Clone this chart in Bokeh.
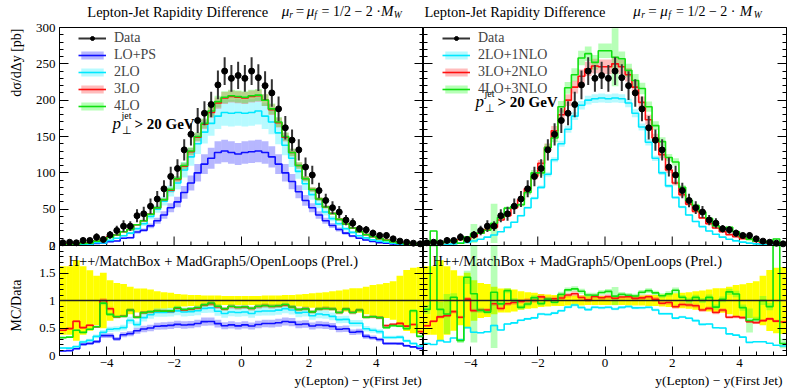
import math
from bokeh.plotting import figure
from bokeh.models import (Range1d, LinearAxis, Label, Legend, LegendItem,
                          SingleIntervalTicker, FixedTicker, Span)
from bokeh.layouts import row, column
from bokeh.embed import file_html
from bokeh.resources import INLINE

# ---------------- data ----------------
bin_edges = [-5.4, -5.2, -5.0, -4.8, -4.6, -4.4, -4.2, -4.0, -3.8, -3.6, -3.4, -3.2, -3.0,
             -2.8, -2.6, -2.4, -2.2, -2.0, -1.8, -1.6, -1.4, -1.2, -1.0, -0.8, -0.6, -0.4,
             -0.2, 0.0, 0.2, 0.4, 0.6, 0.8, 1.0, 1.2, 1.4, 1.6, 1.8, 2.0, 2.2, 2.4, 2.6,
             2.8, 3.0, 3.2, 3.4, 3.6, 3.8, 4.0, 4.2, 4.4, 4.6, 4.8, 5.0, 5.2, 5.4]

data_vals = [3.7, 4.5, 3.7, 6.9, 6.9, 11.5, 8.3, 14.7, 20.6, 26.6,
             26.6, 41, 43.6, 54, 64, 78, 95, 106, 131.6, 153,
             172, 182, 194, 221, 240, 230, 234, 230, 240, 231,
             220, 210, 188, 162, 145, 131.6, 108, 97, 75.6, 62,
             52, 46, 35, 30.7, 23, 21.6, 17, 13.8, 13.8, 9.2,
             6, 4.5, 3.2, 2.3]
data_errs = [2.3, 2.8, 2.7, 4.3, 3.8, 5.2, 4.2, 5.4, 6.6, 8.0,
             6.7, 9.0, 9.6, 10.8, 10.9, 11.7, 13.3, 12.7, 14.5, 15.3,
             17.2, 16.4, 17.5, 19.9, 19.2, 18.4, 18.7, 18.4, 19.2, 18.5,
             19.8, 18.9, 16.9, 16.2, 14.5, 14.5, 13.0, 12.6, 10.6, 9.3,
             8.8, 8.3, 7.0, 6.8, 5.1, 5.4, 4.8, 4.1, 4.4, 3.2,
             2.7, 2.5, 1.9, 1.4]

# left panel predictions
lo_ps = [0.3, 0.4, 0.45, 1.4, 1.5, 2.9, 3.0, 5.3, 6.2, 10,
         10.6, 18.5, 21, 27, 34, 42, 52, 60, 73, 86,
         100, 112, 120, 128, 130, 128, 126, 128, 129, 130,
         128, 122, 112, 100, 88, 74, 62, 52, 42, 34,
         27.5, 22, 17, 13, 10, 7.5, 5.5, 4, 3, 2,
         1.3, 0.8, 0.5, 0.3]
lo_2 = [0.5, 0.6, 0.6, 1.7, 1.9, 4.0, 3.5, 7, 10, 13.5,
        17, 23, 30, 40, 50, 61, 75, 86, 104, 122,
        140, 156, 168, 178, 183, 182, 183, 182, 183, 185,
        178, 170, 155, 138, 120, 102, 85, 70, 57, 46,
        37, 30, 23, 18, 13.5, 10.5, 7.8, 6, 4.5, 3,
        2, 1.2, 0.7, 0.4]
lo_3 = [1.7, 2.2, 2.3, 3.5, 3.8, 6.0, 8.3, 12.5, 14.5, 19,
        22, 28.5, 34, 43, 52, 63, 76, 91, 109, 129,
        149, 167, 183, 196, 203, 205, 204, 203, 205, 206,
        200, 187, 169, 149, 128, 110, 92, 77, 64, 53,
        44, 36, 29.5, 24, 19, 15, 12, 9.5, 7.5, 5.2,
        3.5, 2.4, 1.8, 1.0]
lo_4 = [1.2, 1.5, 1.7, 2.9, 3.3, 6.0, 7.9, 11, 14.5, 19,
        22, 28.5, 34, 43, 52, 63, 77, 92, 110, 130,
        150, 168, 185, 198, 204, 206, 205, 204, 206, 207,
        200, 188, 170, 150, 128, 110, 92, 77, 64, 53,
        44, 36, 29.5, 24, 19, 15, 12, 9.5, 7, 5,
        3.2, 2.2, 2.6, 0.8]

# right panel predictions
nlo_1 = [0.8, 0.9, 1.0, 1.7, 2.2, 3.3, 4.2, 6.2, 8.5, 11.5,
         14.5, 19, 25, 32, 41, 52, 65, 80, 98, 118,
         140, 160, 178, 193, 200, 202, 203, 202, 203, 202,
         196, 182, 163, 142, 120, 100, 82, 66, 53, 42,
         33, 26, 20, 15.5, 11.5, 8.5, 6.3, 4.6, 3.3, 2.3,
         1.5, 1.0, 0.6, 0.4]
nlo_2 = [2.0, 2.8, 2.6, 5.0, 5.5, 8.0, 8.5, 12, 17, 22,
         25, 35, 41, 52, 63, 78, 95, 113, 135, 158,
         180, 200, 218, 233, 243, 247, 246, 246, 250, 246,
         235, 218, 197, 173, 148, 125, 104, 86, 70, 57,
         47, 38, 30, 24, 19, 15, 12, 9.5, 8.5, 5.5,
         3.8, 3.0, 2.0, 1.4]
nlo_3 = [3.1, 20, 3.1, 5.2, 7.3, 3.1, 11.8, 16.5, 16.9, 21,
         30.6, 38.5, 51.4, 54, 56, 73, 100, 100, 135, 148,
         191, 217, 235, 258, 264, 252, 268, 268, 259, 257,
         241, 227, 216, 191, 165, 143, 121, 115, 80, 62,
         55, 46, 37, 27, 23.5, 25, 19, 12, 8.8, 6,
         6, 4, 9, 0.5]
nlo_3_band = [0.3, 0, 0.5, 2.5, 0.5, 0.5, 1, 13, 1, 1,
              27, 2, 2, 2.5, 2.5, 3, 4, 4, 5, 6,
              8, 8, 9, 10, 10, 10, 10, 10, 40, 10,
              9, 9, 8, 7, 6, 6, 5, 5, 3, 3,
              2.5, 2, 1.8, 1.5, 1.2, 1.2, 1, 0.8, 3, 0.5,
              0.5, 0.3, 0.5, 0.2]

# relative scale-variation band half widths
band_rel = {"LO+PS": 0.12, "2LO": 0.10, "3LO": 0.04, "4LO": 0.04,
            "2LO+1NLO": 0.03, "3LO+2NLO": 0.04}

main_ticks = [0, 50, 100, 150, 200, 250, 300]
ratio_ticks = [0, 0.5, 1, 1.5, 2]

FONT = "Liberation Serif"
XMIN, XMAX = -5.4, 5.4
N = len(data_vals)
lefts = bin_edges[:-1]
rights = bin_edges[1:]
centers = [(bin_edges[i] + bin_edges[i + 1]) / 2 for i in range(N)]

# geometry: main and ratio share one frame (main 218 px over ratio 110 px)
MAIN_PX, RATIO_PX = 218, 110
K = 300 / MAIN_PX                      # main units per pixel
Y_START = -RATIO_PX * K                # bottom of frame in main units
R_TOP = 2 * (MAIN_PX + RATIO_PX) / RATIO_PX
R_MAX = 2.0
MID = 0.3375                           # baseline -> middle offset, in em


def r2m(r):
    return Y_START + r * (RATIO_PX * K) / 2


def step_xy(vals):
    xs, ys = [], []
    for i, v in enumerate(vals):
        xs += [bin_edges[i], bin_edges[i + 1]]
        ys += [v, v]
    return xs, ys


def y_ticker():
    majors, overrides = [], {}
    for t in main_ticks:
        majors.append(float(t))
        overrides[float(t)] = str(t)
    for r in ratio_ticks:
        m = r2m(r)
        if r == 2:
            m = m - 1e-6
        majors.append(m)
        overrides[m] = ("%g" % r)
    minors = [float(v) for v in range(10, 300, 10) if v % 50]
    minors += [r2m(k / 10) for k in range(1, 20) if k % 5]
    return FixedTicker(ticks=majors, minor_ticks=minors), overrides


def style_axis(ax, labels):
    ax.major_tick_in = 9
    ax.major_tick_out = 0
    ax.minor_tick_in = 4
    ax.minor_tick_out = 0
    ax.axis_line_color = "black"
    ax.major_tick_line_color = "black"
    ax.minor_tick_line_color = "black"
    if labels:
        ax.major_label_text_font = FONT
        ax.major_label_text_font_size = "13px"
        ax.major_label_standoff = 4
        ax.major_label_text_color = "black"
    else:
        ax.major_label_text_font_size = "1px"
        ax.major_label_text_alpha = 0
        ax.major_label_standoff = 0


def lab(p, text, x, y, size, style="normal", align="left", angle=0.0):
    p.add_layout(Label(x=x, y=y, text=text, text_font=FONT, text_font_size=f"{size}px",
                       text_font_style=style, text_align=align, text_baseline="middle",
                       angle=angle, text_color="black"))


def strip(w, h):
    s = figure(width=w, height=h, x_range=Range1d(0, w), y_range=Range1d(h, 0),
               title=None,
               min_border_left=0, min_border_right=0, min_border_top=0, min_border_bottom=0,
               x_axis_location=None, y_axis_location=None,
               output_backend="svg", toolbar_location=None)
    s.grid.visible = False
    s.outline_line_color = None
    s.background_fill_color = "white"
    s.border_fill_color = "white"
    return s


def strip_text(s, text, x, base, size, style="normal", align="left"):
    # base: baseline position in strip pixels (y downwards)
    lab(s, text, x, base - MID * size, size, style, align)


def build_panel(is_left, mcs):
    fig_w = 393 if is_left else 365
    origin = 30 if is_left else 423         # page x of this column
    frame_left = 59 if is_left else 423
    frame_w = 364 if is_left else 363
    bl = frame_left - origin
    br = fig_w - bl - frame_w

    def xd(px):
        return XMIN + (px - frame_left) * (XMAX - XMIN) / frame_w

    def yd(py):
        return (245 - py) * K

    def ptext(text, px, base, size, style="normal"):
        lab(p, text, xd(px), yd(base - MID * size), size, style)

    p = figure(width=fig_w, height=353, x_range=Range1d(XMIN, XMAX),
               y_range=Range1d(Y_START, 300), title=None,
               min_border_left=bl, min_border_right=br, min_border_top=7, min_border_bottom=18,
               x_axis_location=None, y_axis_location=None,
               output_backend="svg", toolbar_location=None)
    p.extra_y_ranges = {"ratio": Range1d(0, R_TOP)}
    p.grid.visible = False
    p.outline_line_color = "black"
    p.background_fill_color = "white"
    p.border_fill_color = "white"

    tk, ov = y_ticker()
    ax = LinearAxis(ticker=tk, major_label_overrides=ov)
    style_axis(ax, is_left)
    p.add_layout(ax, "left")
    tk2, _ = y_ticker()
    ax = LinearAxis(ticker=tk2)
    style_axis(ax, False)
    p.add_layout(ax, "right")
    ax = LinearAxis(ticker=SingleIntervalTicker(interval=2, num_minor_ticks=4))
    style_axis(ax, True)
    ax.major_label_standoff = 3
    p.add_layout(ax, "below")

    # tick marks along the bottom of the upper (cross-section) panel
    xmaj = [-4, -2, 0, 2, 4]
    xmin_ = [k / 2 for k in range(-10, 11) if k % 4]
    p.segment(x0=xmaj, y0=[0] * len(xmaj), x1=xmaj, y1=[9 * K] * len(xmaj),
              line_color="black", line_width=1)
    p.segment(x0=xmin_, y0=[0] * len(xmin_), x1=xmin_, y1=[4 * K] * len(xmin_),
              line_color="black", line_width=1)

    # ---- ratio panel ----
    rel = [e / v for e, v in zip(data_errs, data_vals)]
    p.quad(left=lefts, right=rights, bottom=[1 - r for r in rel],
           top=[min(1 + r, R_MAX) for r in rel],
           fill_color="#ffff00", line_alpha=0, y_range_name="ratio")

    band_rs, line_rs = [], []
    for name, vals, line_col, band_col, band in mcs:
        lo = [v - b for v, b in zip(vals, band)]
        hi = [v + b for v, b in zip(vals, band)]
        band_rs.append(p.quad(left=lefts, right=rights, bottom=lo, top=hi,
                              fill_color=band_col, fill_alpha=0.35, line_alpha=0))
        p.quad(left=lefts, right=rights,
               bottom=[min(a / d, R_MAX) for a, d in zip(lo, data_vals)],
               top=[min(a / d, R_MAX) for a, d in zip(hi, data_vals)],
               fill_color=band_col, fill_alpha=0.35, line_alpha=0, y_range_name="ratio")
    for name, vals, line_col, band_col, band in mcs:
        xs, ys = step_xy(vals)
        line_rs.append(p.line(xs, ys, line_color=line_col, line_width=1.6))
        xs2, ys2 = step_xy([min(v / d, R_MAX) for v, d in zip(vals, data_vals)])
        p.line(xs2, ys2, line_color=line_col, line_width=1.6, y_range_name="ratio")

    p.add_layout(Span(location=1, dimension="width", line_color="#222222", line_width=1.3,
                      y_range_name="ratio"))
    p.add_layout(Span(location=0, dimension="width", line_color="black", line_width=1))

    # data points
    err_r = p.segment(x0=centers, y0=[v - e for v, e in zip(data_vals, data_errs)],
                      x1=centers, y1=[v + e for v, e in zip(data_vals, data_errs)],
                      line_color="#333333", line_width=2)
    pt_r = p.scatter(centers, data_vals, size=6, marker="circle",
                     fill_color="black", line_color="black")

    leg_items = [LegendItem(label="Data", renderers=[err_r, pt_r])]
    for (name, *_), br_, lr in zip(mcs, band_rs, line_rs):
        leg_items.append(LegendItem(label=name, renderers=[br_, lr]))
    n_rows = len(leg_items)
    leg = Legend(items=leg_items, location=(19, 355 - (29 + 17 * n_rows)),
                 orientation="vertical", padding=0, spacing=0, margin=0,
                 glyph_width=28, glyph_height=10, label_height=17, label_standoff=8,
                 label_text_font=FONT, label_text_font_size="14px",
                 border_line_alpha=0, background_fill_alpha=0)
    p.add_layout(leg)

    # texts inside the frame
    pyb = 129 if is_left else 107
    pxb = 112 if is_left else 475
    ptext("p", pxb, pyb, 17, "italic")
    ptext("jet", pxb + 9, pyb - 11, 10)
    ptext("⊥", pxb + 9, pyb + 4, 11)
    ptext("> 20 GeV", pxb + 22, pyb, 15, "bold")
    ptext("H++/MatchBox + MadGraph5/OpenLoops (Prel.)", frame_left + 9, 265, 14.5)

    # title strip
    off = 0 if is_left else 364
    t = strip(fig_w, 20)
    strip_text(t, "Lepton-Jet Rapidity Difference", 60 + off - origin, 16, 14.5)
    mu_parts = [("μ", 270, 16, 15, "italic"), ("r", 278, 17.5, 9.5, "italic"),
                ("=", 285, 16, 15, "normal"), ("μ", 297, 16, 15, "italic"),
                ("f", 305, 17.5, 9.5, "italic"), ("= 1/2 − 2 ·", 313, 16, 14, "normal"),
                ("M", 377, 16, 15, "italic"), ("W", 391, 17.5, 9.5, "italic")]
    for txt, px, py, s, st in mu_parts:
        strip_text(t, txt, px + off - origin, py, s, st)

    # x-axis title strip
    b = strip(fig_w, 15)
    strip_text(b, "y(Lepton) − y(First Jet)", frame_left + frame_w - 2 - origin, 12, 13.5,
               align="right")
    return column(t, p, b, spacing=0)


left_mcs = [
    ("LO+PS", lo_ps, "#1010ff", "#3030ff", [v * band_rel["LO+PS"] for v in lo_ps]),
    ("2LO", lo_2, "#00e8ff", "#30f0ff", [v * band_rel["2LO"] for v in lo_2]),
    ("3LO", lo_3, "#ff1010", "#ff4040", [v * band_rel["3LO"] for v in lo_3]),
    ("4LO", lo_4, "#10e010", "#30ff30", [v * band_rel["4LO"] for v in lo_4]),
]
right_mcs = [
    ("2LO+1NLO", nlo_1, "#00e8ff", "#30f0ff", [v * band_rel["2LO+1NLO"] for v in nlo_1]),
    ("3LO+2NLO", nlo_2, "#ff1010", "#ff4040", [v * band_rel["3LO+2NLO"] for v in nlo_2]),
    ("4LO+3NLO", nlo_3, "#10e010", "#30ff30", nlo_3_band),
]

# y-axis titles strip on the far left
ys = strip(30, 388)
lab(ys, "dσ/dΔy [pb]", 16, 28, 14, align="right", angle=math.pi / 2)
lab(ys, "MC/Data", 16, 305, 14, align="center", angle=math.pi / 2)

page = row(ys, build_panel(True, left_mcs), build_panel(False, right_mcs), spacing=0)
open("out.html", "w").write(file_html(page, INLINE))
